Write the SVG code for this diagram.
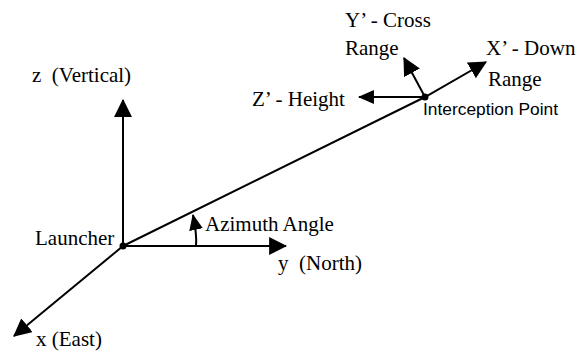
<svg xmlns="http://www.w3.org/2000/svg" width="586" height="352" viewBox="0 0 586 352">
<style>
.ln{stroke:#000;stroke-width:2;fill:none}
.t{font-family:"Liberation Serif","Times New Roman",serif;font-size:21px;fill:#000;white-space:pre}
.s{font-family:"Liberation Sans",Arial,sans-serif;font-size:16px;fill:#000}
</style>
<defs>
<marker id="ah" markerUnits="userSpaceOnUse" markerWidth="18" markerHeight="18" viewBox="0 0 16 16" refX="15" refY="8" orient="auto">
<path d="M0,0 L16,8 L0,16 Z" fill="#000"/>
</marker>
<marker id="ahs" markerUnits="userSpaceOnUse" markerWidth="16" markerHeight="14" viewBox="0 0 15 13" refX="14" refY="6.5" orient="auto">
<path d="M0,0 L15,6.5 L0,13 Z" fill="#000"/>
</marker>
</defs>
<rect width="586" height="352" fill="#fff"/>
<g id="connectors">
<line class="ln" x1="123" y1="246" x2="123" y2="100" marker-end="url(#ah)"/>
<line class="ln" x1="123" y1="246" x2="286" y2="246" marker-end="url(#ah)"/>
<line class="ln" x1="123" y1="246" x2="14" y2="336" marker-end="url(#ah)"/>
<polyline class="ln" points="123,246 425,97 486,62" marker-end="url(#ah)"/>
<line class="ln" x1="425" y1="97" x2="359" y2="97" marker-end="url(#ahs)"/>
<line class="ln" x1="425" y1="97" x2="404" y2="58" marker-end="url(#ah)"/>
<path class="ln" d="M196,246 Q197,234 193,215" marker-end="url(#ahs)"/>
</g>
<g id="launcher">
<circle cx="123" cy="246" r="3.5" fill="#000"/>
<text class="t" x="35" y="245">Launcher</text>
</g>
<g id="interception">
<circle cx="425" cy="97" r="3.5" fill="#000"/>
<text class="s" x="423" y="115" textLength="135" lengthAdjust="spacingAndGlyphs">Interception Point</text>
</g>
<g id="z-axis"><text class="t" x="32" y="82">z  (Vertical)</text></g>
<g id="y-axis"><text class="t" x="278" y="270">y  (North)</text></g>
<g id="x-axis"><text class="t" x="36" y="346">x (East)</text></g>
<g id="azimuth"><text class="t" x="205" y="231">Azimuth Angle</text></g>
<g id="y-prime"><text class="t" x="345" y="27">Y’ - Cross</text><text class="t" x="345" y="55">Range</text></g>
<g id="x-prime"><text class="t" x="486" y="55">X’ - Down</text><text class="t" x="488" y="86">Range</text></g>
<g id="z-prime"><text class="t" x="252" y="106">Z’ - Height</text></g>
</svg>
